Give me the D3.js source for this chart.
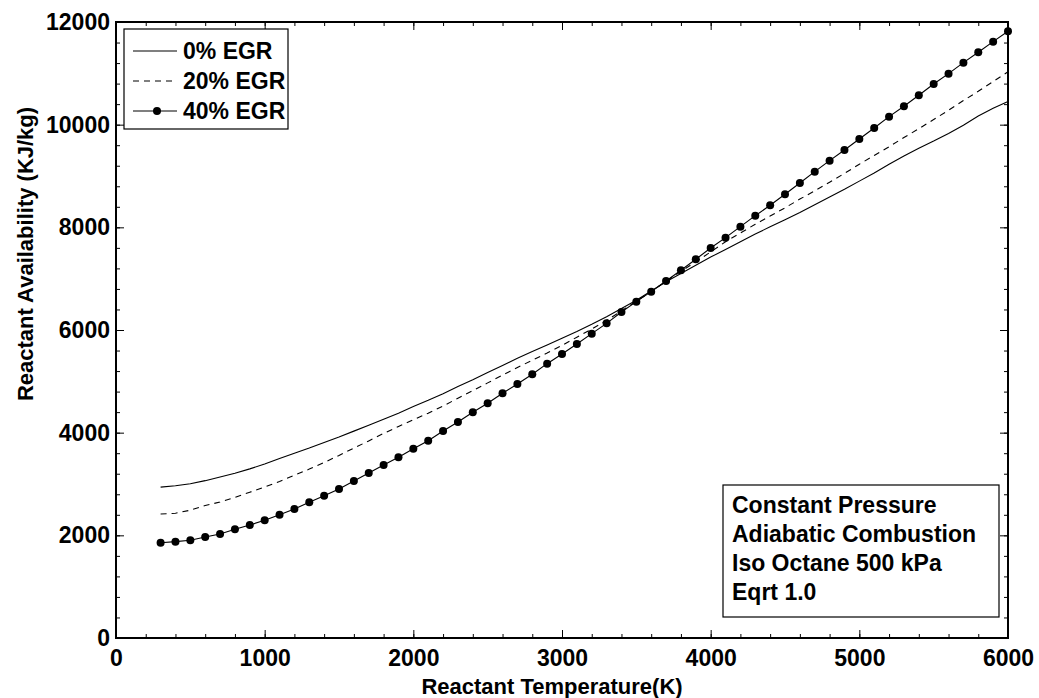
<!DOCTYPE html>
<html>
<head>
<meta charset="utf-8">
<script src="https://cdn.jsdelivr.net/npm/d3@7"></script>
<style>
  body { margin: 0; background: #fff; }
  text { font-family: "Liberation Sans", Arial, sans-serif; font-weight: bold; fill: #000; }
  .tickLabel text { font-size: 23px; }
</style>
</head>
<body>
<div id="chart"></div>
<script>
var windowsWidth = 1039,
  windowsHeight = 698,
  margin = { top: 22, right: 31, bottom: 60, left: 116 },
  width = windowsWidth - margin.left - margin.right,
  height = windowsHeight - margin.top - margin.bottom;

// reactant temperature (K)
var temps = [300, 400, 500, 600, 700, 800, 900, 1000,
  1100, 1200, 1300, 1400, 1500, 1600, 1700, 1800, 1900, 2000,
  2100, 2200, 2300, 2400, 2500, 2600, 2700, 2800, 2900, 3000,
  3100, 3200, 3300, 3400, 3500, 3600, 3700, 3800, 3900, 4000,
  4100, 4200, 4300, 4400, 4500, 4600, 4700, 4800, 4900, 5000,
  5100, 5200, 5300, 5400, 5500, 5600, 5700, 5800, 5900, 6000];

// reactant availability (KJ/kg)
var egr0 = [2940, 2965, 3005, 3065, 3135, 3210, 3295, 3390,
  3495, 3600, 3700, 3810, 3915, 4030, 4145, 4260, 4380, 4510,
  4630, 4760, 4900, 5030, 5170, 5310, 5450, 5580, 5710, 5840,
  5970, 6110, 6260, 6420, 6580, 6760, 6940, 7100, 7260, 7420,
  7570, 7720, 7870, 8010, 8150, 8290, 8440, 8590, 8740, 8900,
  9060, 9230, 9390, 9540, 9680, 9830, 9990, 10170, 10320, 10450];

var egr20 = [2416, 2430, 2490, 2580, 2650, 2740, 2840, 2940,
  3050, 3170, 3290, 3420, 3555, 3700, 3840, 3985, 4120, 4250,
  4380, 4520, 4670, 4820, 4970, 5120, 5270, 5410, 5550, 5700,
  5860, 6020, 6190, 6370, 6560, 6750, 6950, 7140, 7330, 7520,
  7720, 7890, 8060, 8220, 8380, 8550, 8710, 8880, 9050, 9230,
  9400, 9570, 9750, 9920, 10100, 10280, 10470, 10650, 10840, 11030];

var egr40 = [1857, 1877, 1903, 1968, 2026, 2117, 2201, 2292,
  2403, 2513, 2643, 2773, 2903, 3059, 3214, 3370, 3520, 3688,
  3844, 4033, 4208, 4397, 4572, 4767, 4948, 5137, 5344, 5533,
  5728, 5929, 6130, 6351, 6552, 6747, 6955, 7163, 7378, 7598,
  7799, 8013, 8227, 8430, 8644, 8864, 9085, 9299, 9507, 9721,
  9936, 10156, 10358, 10572, 10793, 10994, 11208, 11410, 11617, 11820];

var xTicks = [0, 1000, 2000, 3000, 4000, 5000, 6000],
  yTicks = [0, 2000, 4000, 6000, 8000, 10000, 12000],
  seriesNames = ["0% EGR", "20% EGR", "40% EGR"],
  noteLines = ["Constant Pressure", "Adiabatic Combustion", "Iso Octane 500 kPa", "Eqrt 1.0"];

var series = [
  { name: seriesNames[0], values: egr0, dash: null, dots: false },
  { name: seriesNames[1], values: egr20, dash: "6,5", dots: false },
  { name: seriesNames[2], values: egr40, dash: null, dots: true }
];

var x = d3.scaleLinear().domain([0, 6000]).range([0, width]);
var y = d3.scaleLinear().domain([0, 12000]).range([height, 0]);

var svg = d3.select("#chart").append("svg")
  .attr("width", windowsWidth)
  .attr("height", windowsHeight)
  .append("g")
  .attr("transform", "translate(" + margin.left + "," + margin.top + ")");

var xMinor = d3.range(0, 6001, 200),
  yMinor = d3.range(0, 12001, 400);

// minor ticks, all four sides, pointing inward
svg.append("g").attr("transform", "translate(0," + height + ")")
  .call(d3.axisBottom(x).tickValues(xMinor).tickSize(-4).tickFormat(""));
svg.append("g")
  .call(d3.axisTop(x).tickValues(xMinor).tickSize(-4).tickFormat(""));
svg.append("g")
  .call(d3.axisLeft(y).tickValues(yMinor).tickSize(-4).tickFormat(""));
svg.append("g").attr("transform", "translate(" + width + ",0)")
  .call(d3.axisRight(y).tickValues(yMinor).tickSize(-4).tickFormat(""));

// major ticks with labels
svg.append("g").attr("class", "tickLabel")
  .attr("transform", "translate(0," + height + ")")
  .call(d3.axisBottom(x).tickValues(xTicks).tickSize(-8).tickPadding(12).tickFormat(d3.format("d")));
svg.append("g").attr("class", "tickLabel")
  .call(d3.axisLeft(y).tickValues(yTicks).tickSize(-8).tickPadding(6).tickFormat(d3.format("d")));
svg.append("g")
  .call(d3.axisTop(x).tickValues(xTicks).tickSize(-8).tickFormat(""));
svg.append("g").attr("transform", "translate(" + width + ",0)")
  .call(d3.axisRight(y).tickValues(yTicks).tickSize(-8).tickFormat(""));

svg.selectAll(".domain").remove();
svg.selectAll(".tick line").attr("stroke", "#000").attr("stroke-width", 1);
svg.selectAll(".tickLabel text").attr("fill", "#000");

// curves
var line = d3.line()
  .x(function(d, i){ return x(temps[i]); })
  .y(function(d){ return y(d); });

series.forEach(function(s){
  svg.append("path")
    .datum(s.values)
    .attr("d", line)
    .attr("fill", "none")
    .attr("stroke", "#000")
    .attr("stroke-width", 1.1)
    .attr("stroke-dasharray", s.dash);
  if (s.dots) {
    svg.selectAll(".dot")
      .data(s.values).enter().append("circle")
      .attr("cx", function(d, i){ return x(temps[i]); })
      .attr("cy", function(d){ return y(d); })
      .attr("r", 4)
      .attr("fill", "#000");
  }
});

// frame
svg.append("rect")
  .attr("width", width)
  .attr("height", height)
  .attr("fill", "none")
  .attr("stroke", "#000")
  .attr("stroke-width", 2);

// legend
var legend = svg.append("g").attr("transform", "translate(8,7)");
legend.append("rect")
  .attr("width", 164).attr("height", 100)
  .attr("fill", "#fff").attr("stroke", "#000").attr("stroke-width", 1.2);
var legendRows = legend.selectAll(".legRow")
  .data(series).enter().append("g")
  .attr("transform", function(d, i){ return "translate(0," + (22 + i * 30) + ")"; });
legendRows.append("line")
  .attr("x1", 9).attr("x2", 53).attr("y1", 0).attr("y2", 0)
  .attr("stroke", "#000").attr("stroke-width", 1.1)
  .attr("stroke-dasharray", function(d){ return d.dash; });
legendRows.filter(function(d){ return d.dots; }).append("circle")
  .attr("cx", 33).attr("cy", 0).attr("r", 4).attr("fill", "#000");
legendRows.append("text")
  .attr("x", 59).attr("y", 8)
  .style("font-size", "23px")
  .text(function(d){ return d.name; });

// note box
var note = svg.append("g").attr("transform", "translate(607,463)");
note.append("rect")
  .attr("width", 276).attr("height", 132)
  .attr("fill", "#fff").attr("stroke", "#000").attr("stroke-width", 1.2);
note.selectAll(".noteLine")
  .data(noteLines).enter().append("text")
  .attr("x", 9)
  .attr("y", function(d, i){ return 28 + i * 29; })
  .style("font-size", "23px")
  .text(function(d){ return d; });

// axis titles
svg.append("text")
  .attr("x", width / 2 - 10)
  .attr("y", height + 56)
  .style("text-anchor", "middle")
  .style("font-size", "22px")
  .text("Reactant Temperature(K)");

svg.append("text")
  .attr("transform", "translate(-83," + (254 - margin.top) + ") rotate(-90)")
  .style("text-anchor", "middle")
  .style("font-size", "22px")
  .text("Reactant Availability (KJ/kg)");
</script>
</body>
</html>
